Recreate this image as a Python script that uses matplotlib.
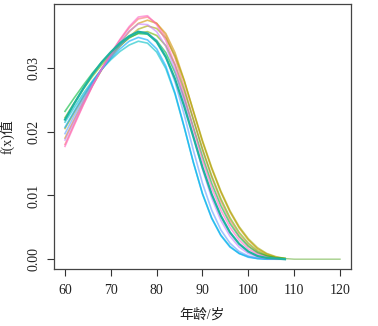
import numpy as np
import matplotlib
matplotlib.use('Agg')
import matplotlib.pyplot as plt

plt.rcParams['font.family'] = ['Liberation Serif', 'Noto Sans CJK SC']

# age grid shared by every curve
ages = [60, 62, 64, 66, 68, 70, 72, 74, 76, 78, 80, 82, 84,
        86, 88, 90, 92, 94, 96, 98, 100, 102, 104, 106, 108]

# f(x) values, one list per curve
salmon = [0.0180, 0.0212, 0.0243, 0.0272, 0.0298, 0.0322, 0.0344, 0.0363, 0.0377, 0.0380,
          0.0370, 0.0350, 0.0316, 0.0270, 0.0220, 0.0171, 0.0128, 0.0091, 0.0061, 0.0038,
          0.0022, 0.0011, 0.0005, 0.0002, 0.0000]
orange = [0.0190, 0.0219, 0.0247, 0.0273, 0.0297, 0.0319, 0.0339, 0.0357, 0.0370, 0.0375,
          0.0370, 0.0354, 0.0324, 0.0281, 0.0232, 0.0184, 0.0142, 0.0105, 0.0074, 0.0049,
          0.0030, 0.0016, 0.0008, 0.0003, 0.0001]
olive = [0.0205, 0.0230, 0.0254, 0.0277, 0.0298, 0.0317, 0.0334, 0.0349, 0.0361, 0.0366,
         0.0362, 0.0347, 0.0319, 0.0280, 0.0233, 0.0186, 0.0144, 0.0107, 0.0076, 0.0051,
         0.0032, 0.0018, 0.0009, 0.0004, 0.0001]
ygreen = [0.0222, 0.0245, 0.0267, 0.0287, 0.0305, 0.0321, 0.0335, 0.0347, 0.0355, 0.0357,
          0.0351, 0.0335, 0.0305, 0.0265, 0.0219, 0.0173, 0.0131, 0.0095, 0.0065, 0.0042,
          0.0025, 0.0013, 0.0006, 0.0002, 0.0001]
green = [0.0232, 0.0253, 0.0273, 0.0292, 0.0309, 0.0324, 0.0337, 0.0348, 0.0354, 0.0353,
         0.0343, 0.0324, 0.0293, 0.0253, 0.0207, 0.0161, 0.0119, 0.0084, 0.0056, 0.0035,
         0.0020, 0.0010, 0.0005, 0.0002, 0.0001]
cyan = [0.0215, 0.0238, 0.0260, 0.0280, 0.0298, 0.0313, 0.0326, 0.0336, 0.0342, 0.0339,
        0.0325, 0.0299, 0.0259, 0.0207, 0.0152, 0.0103, 0.0065, 0.0038, 0.0020, 0.0009,
        0.0004, 0.0001, 0.0000, 0.0000, 0.0000]
lblue = [0.0207, 0.0232, 0.0256, 0.0278, 0.0298, 0.0315, 0.0330, 0.0342, 0.0348, 0.0344,
         0.0330, 0.0303, 0.0261, 0.0208, 0.0152, 0.0102, 0.0064, 0.0037, 0.0019, 0.0009,
         0.0003, 0.0001, 0.0000, 0.0000, 0.0000]
blue = [0.0197, 0.0225, 0.0251, 0.0276, 0.0298, 0.0318, 0.0335, 0.0349, 0.0357, 0.0355,
        0.0343, 0.0318, 0.0278, 0.0227, 0.0171, 0.0119, 0.0077, 0.0046, 0.0025, 0.0012,
        0.0005, 0.0002, 0.0001, 0.0000, 0.0000]
purple = [0.0187, 0.0217, 0.0246, 0.0273, 0.0298, 0.0320, 0.0341, 0.0358, 0.0369, 0.0368,
          0.0357, 0.0334, 0.0297, 0.0248, 0.0193, 0.0141, 0.0096, 0.0061, 0.0036, 0.0019,
          0.0009, 0.0004, 0.0001, 0.0000, 0.0000]
pink = [0.0177, 0.0210, 0.0242, 0.0272, 0.0299, 0.0323, 0.0345, 0.0365, 0.0380, 0.0382,
        0.0368, 0.0343, 0.0305, 0.0257, 0.0205, 0.0155, 0.0112, 0.0077, 0.0050, 0.0030,
        0.0016, 0.0008, 0.0003, 0.0001, 0.0000]
# the bold curve
teal = [0.0219, 0.0244, 0.0268, 0.0290, 0.0309, 0.0325, 0.0339, 0.0350, 0.0357, 0.0354,
        0.0341, 0.0317, 0.0283, 0.0240, 0.0192, 0.0144, 0.0102, 0.0068, 0.0042, 0.0024,
        0.0012, 0.0005, 0.0002, 0.0001, 0.0000]
# flat tail of the green curve out to 120
tail_ages = [108, 110, 112, 114, 116, 118, 120]
tail_vals = [0.0001, 0, 0, 0, 0, 0, 0]

curves = [salmon, orange, olive, ygreen, green, cyan, lblue, blue, purple, pink]
colors = ['#F8766D', '#D39200', '#A3A500', '#6EB300', '#00BA38',
          '#00BFC4', '#00A9FF', '#619CFF', '#C77CFF', '#FF61C3']

fig = plt.figure(figsize=(3.78, 3.26), dpi=100)
ax = fig.add_axes([54/378, 57/326, 297/378, 265/326])

for vals, c in zip(curves, colors):
    ax.plot(ages, vals, color=c, lw=1.2, alpha=0.6)
ax.plot(tail_ages, tail_vals, color='#8CC26A', lw=1.0, alpha=0.8)
ax.plot(ages, teal, color='#1FB3A0', lw=1.6)

ax.set_xlim(57.6, 122.4)
ax.set_ylim(-0.00154, 0.04004)
ax.set_xticks([60, 70, 80, 90, 100, 110, 120])
ax.set_yticks([0.00, 0.01, 0.02, 0.03])
ax.set_yticklabels(['0.00', '0.01', '0.02', '0.03'], rotation=90, va='center')
ax.tick_params(direction='out', length=5, width=0.8, colors='#333333',
               labelsize=10, labelcolor='#222222')
ax.tick_params(axis='x', pad=6)
ax.tick_params(axis='y', pad=5)
for s in ax.spines.values():
    s.set_color('#444444')
    s.set_linewidth(0.9)

ax.set_xlabel('年龄/岁', fontsize=10, color='#222222', labelpad=8)
ax.set_ylabel('f(x)值', fontsize=10, color='#222222', labelpad=9)

fig.savefig('out.png', dpi=100)
